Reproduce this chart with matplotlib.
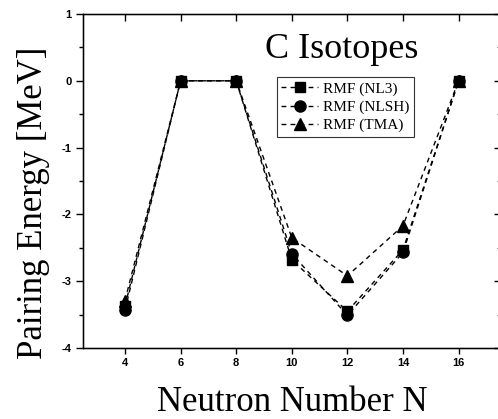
import matplotlib
matplotlib.use("Agg")
import matplotlib.pyplot as plt
from matplotlib.ticker import MultipleLocator

plt.rcParams["axes.unicode_minus"] = False

# Neutron numbers and pairing energies (MeV)
neutrons = [4, 6, 8, 10, 12, 14, 16]
nl3 = [-3.37, 0.0, 0.0, -2.68, -3.45, -2.53, 0.0]
nlsh = [-3.43, 0.0, 0.0, -2.59, -3.51, -2.57, 0.0]
tma = [-3.29, 0.0, 0.0, -2.35, -2.92, -2.17, 0.0]
labels = ["RMF (NL3)", "RMF (NLSH)", "RMF (TMA)"]
xticks = [4, 6, 8, 10, 12, 14, 16]

fig = plt.figure(figsize=(4.98, 4.19), dpi=100)
ax = fig.add_axes([83.3 / 498, 1 - 348 / 419, 417 / 498, 334 / 419])

dash = (0, (3.5, 3))
ax.plot(neutrons, nl3, color="black", ls=dash, lw=1.0, marker="s", ms=7.5, label=labels[0])
ax.plot(neutrons, nlsh, color="black", ls=dash, lw=1.0, marker="o", ms=8, label=labels[1])
ax.plot(neutrons, tma, color="black", ls=dash, lw=1.0, marker="^", ms=8.5, label=labels[2])

ax.set_xlim(2.5, 17.5)
ax.set_ylim(-4, 1)
ax.set_xticks(xticks)
ax.yaxis.set_major_locator(MultipleLocator(1))
ax.yaxis.set_minor_locator(MultipleLocator(0.5))

ax.tick_params(axis="both", which="both", width=1.0)
ax.tick_params(axis="x", which="major", direction="out", length=4, top=False)
ax.tick_params(axis="y", which="major", direction="out", length=5, right=False)
ax.tick_params(axis="y", which="minor", direction="out", length=3, right=False)
for lab in ax.get_xticklabels() + ax.get_yticklabels():
    lab.set_fontfamily("Liberation Sans")
    lab.set_fontweight("bold")
    lab.set_fontsize(8)

# inward ticks on top and right spines
top = ax.twiny()
top.set_xlim(ax.get_xlim())
top.set_xticks(xticks)
top.xaxis.set_ticks_position("top")
top.tick_params(axis="x", which="major", top=True, bottom=False, direction="in",
                length=5, width=1.0, labeltop=False, labelbottom=False)
right = ax.twinx()
right.set_ylim(ax.get_ylim())
right.yaxis.set_major_locator(MultipleLocator(1))
right.yaxis.set_minor_locator(MultipleLocator(0.5))
right.tick_params(which="major", direction="in", length=4, labelright=False, width=1.0)
right.tick_params(which="minor", direction="in", length=2, labelright=False, width=0.6)

for s in ax.spines.values():
    s.set_linewidth(1.0)

ax.set_xlabel("Neutron Number N", fontfamily="Liberation Serif", fontsize=25, labelpad=13)
ax.set_ylabel("Pairing Energy [MeV]", fontfamily="Liberation Serif", fontsize=25)
ax.yaxis.set_label_coords(-0.08, 0.434)

ax.text(0.619, 0.868, "C Isotopes", transform=ax.transAxes, ha="center", va="baseline",
        fontfamily="Liberation Serif", fontsize=26)

leg = ax.legend(loc="upper left", bbox_to_anchor=(0.464, 0.811), frameon=True, fancybox=False,
                edgecolor="black", prop={"family": "Liberation Serif", "size": 11},
                handlelength=2.4, handletextpad=0.3, borderpad=0.3, labelspacing=0.3,
                borderaxespad=0)
leg.get_frame().set_linewidth(0.8)

fig.savefig("out.png", dpi=100)
